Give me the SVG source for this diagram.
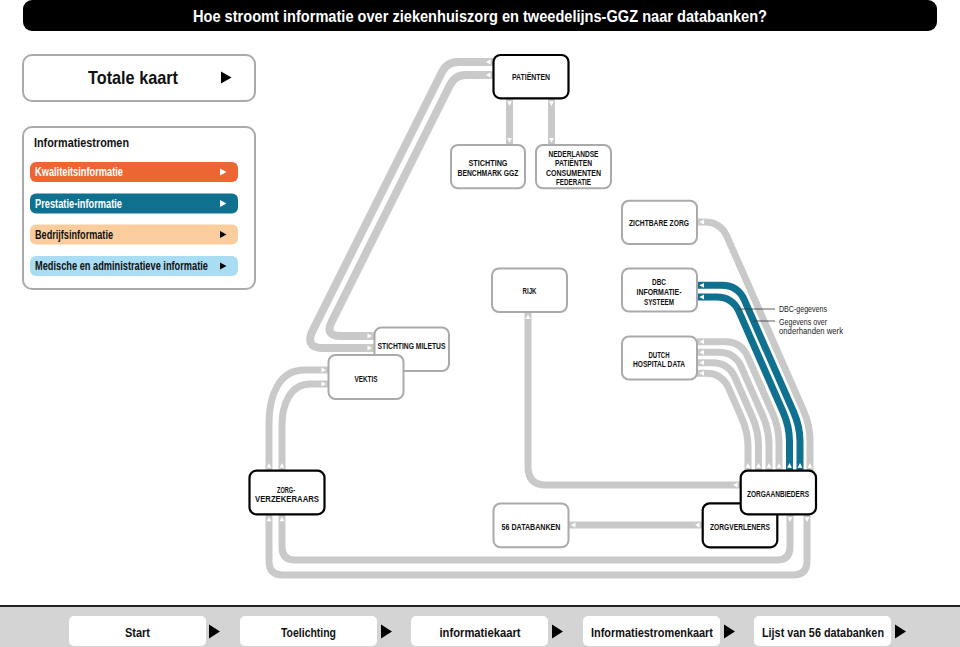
<svg xmlns="http://www.w3.org/2000/svg" width="960" height="647" viewBox="0 0 960 647">
<defs>
<style>
text{font-family:"Liberation Sans",Arial,sans-serif}
.nb rect{fill:#fff;stroke:#aaaaaa;stroke-width:2}
.nk rect{fill:#fff;stroke:#000;stroke-width:2.2}
.nl{font-size:9.5px;font-weight:bold;fill:#111;text-anchor:middle}
.c{fill:none;stroke:#c9c9c9;stroke-width:7;marker-start:url(#as);marker-end:url(#ae)}
.cw{stroke-width:8}
.t{stroke:#10708f}
.bt{font-size:12px;font-weight:bold}
.lead{stroke:#333;stroke-width:0.8;fill:none}
.lab{font-size:9px;fill:#222}
.btn{fill:#fff}
.bl{font-size:13.5px;font-weight:bold;fill:#111;text-anchor:middle}
.pnl{fill:#fff;stroke:#aaaaaa;stroke-width:2}
</style>
<marker id="ae" markerUnits="userSpaceOnUse" markerWidth="10" markerHeight="10" viewBox="0 0 10 10" refX="10" refY="5" orient="auto"><path d="M3,2.6 L7.6,5 L3,7.4z" fill="#fff"/></marker>
<marker id="as" markerUnits="userSpaceOnUse" markerWidth="10" markerHeight="10" viewBox="0 0 10 10" refX="0" refY="5" orient="auto"><path d="M3,2.6 L7.6,5 L3,7.4z" fill="#fff"/></marker>
</defs>
<rect width="960" height="647" fill="#fff"/>

<g id="titlebar">
<rect x="23" y="0" width="914" height="31" rx="9" fill="#000"/>
<text x="480" y="22" font-size="17" font-weight="bold" fill="#fff" text-anchor="middle" textLength="574" lengthAdjust="spacingAndGlyphs">Hoe stroomt informatie over ziekenhuiszorg en tweedelijns-GGZ naar databanken?</text>
</g>

<g id="totale-kaart">
<rect class="pnl" x="23" y="55" width="232" height="46" rx="9"/>
<text x="88" y="84" font-size="19" font-weight="bold" fill="#111" textLength="90" lengthAdjust="spacingAndGlyphs">Totale kaart</text>
<path d="M221,71.5 L231.5,77.5 L221,83.5z" fill="#000"/>
</g>

<g id="legend">
<rect class="pnl" x="23" y="127" width="232" height="162" rx="9"/>
<text x="34" y="147" font-size="13" font-weight="bold" fill="#111" textLength="95" lengthAdjust="spacingAndGlyphs">Informatiestromen</text>
<rect x="30" y="162" width="208" height="20" rx="6" fill="#eb6632"/>
<text class="bt" x="35" y="176" fill="#fff" textLength="88" lengthAdjust="spacingAndGlyphs">Kwaliteitsinformatie</text>
<path d="M220,168.5 L226.5,172 L220,175.5z" fill="#fff"/>
<rect x="30" y="193.5" width="208" height="20" rx="6" fill="#10708f"/>
<text class="bt" x="35" y="207.5" fill="#fff" textLength="87" lengthAdjust="spacingAndGlyphs">Prestatie-informatie</text>
<path d="M220,200 L226.5,203.5 L220,207z" fill="#fff"/>
<rect x="30" y="224.5" width="208" height="20" rx="6" fill="#fccd9c"/>
<text class="bt" x="35" y="238.5" fill="#111" textLength="78" lengthAdjust="spacingAndGlyphs">Bedrijfsinformatie</text>
<path d="M220,231 L226.5,234.5 L220,238z" fill="#000"/>
<rect x="30" y="256" width="208" height="20" rx="6" fill="#a8ddf3"/>
<text class="bt" x="35" y="270" fill="#111" textLength="173" lengthAdjust="spacingAndGlyphs">Medische en administratieve informatie</text>
<path d="M220,262.5 L226.5,266 L220,269.5z" fill="#000"/>
</g>

<g id="connectors">
<path class="c" d="M509.5,98.3 L509.5,145"/>
<path class="c" d="M551.5,98.3 L551.5,145"/>
<path class="c cw" d="M493.5,62 L458,62 Q447,62 442,72 L312.9,330.1 Q304,348 324,348 L374.5,348"/>
<path class="c cw" d="M493.5,75 L466,75 Q455,75 450,85 L331.7,321.7 Q324.5,336 340.5,336 L374.5,336"/>
<path class="c" d="M269,470.7 L269,423 C269,396 279,370 304,370 L328.5,370"/>
<path class="c" d="M282,470.7 L282,425 C282,405 290,384 310,384 L328.5,384"/>
<path class="c" d="M807,514.3 L807,561 Q807,575 793,575 L283,575 Q269,575 269,561 L269,514.3"/>
<path class="c" d="M790,514.3 L790,547 Q790,560 777,560 L295,560 Q282,560 282,547 L282,514.3"/>
<path class="c" d="M740.7,485 L546,485 Q528,485 528,467 L528,312"/>
<path class="c" d="M702.7,525 L568.5,525"/>
<path class="c" d="M810,470.7 L810,440.1 Q810,425.5 803.6,410.9 L727,236.6 Q720.5,222 704.5,222 L697,222"/>
<path class="c" d="M779,470.7 L779,442.3 Q779,427.7 772.6,413.1 L747.6,356.3 Q741.1,341.7 725.1,341.7 L697,341.7"/>
<path class="c" d="M769,470.7 L769,444.6 Q769,430 762.6,415.4 L741.3,366.9 Q734.8,352.3 718.8,352.3 L697,352.3"/>
<path class="c" d="M758.5,470.7 L758.5,445.7 Q758.5,431.1 752.1,416.5 L734.9,377.3 Q728.4,362.7 712.4,362.7 L697,362.7"/>
<path class="c" d="M748,470.7 L748,446.9 Q748,432.3 741.6,417.7 L728.5,387.9 Q722,373.3 706,373.3 L697,373.3"/>
<path class="c t" d="M800,470.7 L800,441.2 Q800,426.6 793.6,412 L744.3,299.9 Q737.8,285.3 721.8,285.3 L697,285.3"/>
<path class="c t" d="M789.5,470.7 L789.5,441.2 Q789.5,426.6 783.1,412 L739,311.6 Q732.5,297 716.5,297 L697,297"/>
<path class="lead" d="M737.5,309 L775,309"/>
<path class="lead" d="M753.5,321 L775,321"/>
</g>

<g id="labels">
<text class="lab" x="779" y="312" textLength="48" lengthAdjust="spacingAndGlyphs">DBC-gegevens</text>
<text class="lab" x="779" y="324.5" textLength="48" lengthAdjust="spacingAndGlyphs">Gegevens over</text>
<text class="lab" x="779" y="334" textLength="64" lengthAdjust="spacingAndGlyphs">onderhanden werk</text>
</g>

<g id="patienten" class="nk">
<rect x="493.5" y="55" width="75" height="43.3" rx="7"/>
<text class="nl" x="531" y="80" textLength="38" lengthAdjust="spacingAndGlyphs">PATIËNTEN</text>
</g>
<g id="benchmark" class="nb">
<rect x="451" y="145" width="74" height="43.3" rx="7"/>
<text class="nl" x="488" y="165.5" textLength="39" lengthAdjust="spacingAndGlyphs">STICHTING</text>
<text class="nl" x="488" y="175.5" textLength="61" lengthAdjust="spacingAndGlyphs">BENCHMARK GGZ</text>
</g>
<g id="npcf" class="nb">
<rect x="536" y="145" width="75" height="43.3" rx="7"/>
<text class="nl" x="573.5" y="156.5" textLength="50" lengthAdjust="spacingAndGlyphs">NEDERLANDSE</text>
<text class="nl" x="573.5" y="166.2" textLength="37" lengthAdjust="spacingAndGlyphs">PATIËNTEN</text>
<text class="nl" x="573.5" y="175.8" textLength="55" lengthAdjust="spacingAndGlyphs">CONSUMENTEN</text>
<text class="nl" x="573.5" y="185.3" textLength="35" lengthAdjust="spacingAndGlyphs">FEDERATIE</text>
</g>
<g id="zichtbare-zorg" class="nb">
<rect x="622" y="200.7" width="75" height="43.3" rx="7"/>
<text class="nl" x="659" y="226" textLength="60" lengthAdjust="spacingAndGlyphs">ZICHTBARE ZORG</text>
</g>
<g id="rijk" class="nb">
<rect x="492" y="268.5" width="75" height="43.5" rx="7"/>
<text class="nl" x="529.5" y="293.5" textLength="14" lengthAdjust="spacingAndGlyphs">RIJK</text>
</g>
<g id="dbc" class="nb">
<rect x="622" y="268.5" width="75" height="43" rx="7"/>
<text class="nl" x="659" y="285" textLength="14" lengthAdjust="spacingAndGlyphs">DBC</text>
<text class="nl" x="659" y="295" textLength="45" lengthAdjust="spacingAndGlyphs">INFORMATIE-</text>
<text class="nl" x="659" y="305" textLength="30" lengthAdjust="spacingAndGlyphs">SYSTEEM</text>
</g>
<g id="dhd" class="nb">
<rect x="622" y="336.5" width="75" height="43" rx="7"/>
<text class="nl" x="659" y="358" textLength="21" lengthAdjust="spacingAndGlyphs">DUTCH</text>
<text class="nl" x="659" y="367.3" textLength="52" lengthAdjust="spacingAndGlyphs">HOSPITAL DATA</text>
</g>
<g id="miletus" class="nb">
<rect x="374.5" y="327.5" width="74.5" height="43.5" rx="7"/>
<text class="nl" x="411.5" y="348.5" textLength="68" lengthAdjust="spacingAndGlyphs">STICHTING MILETUS</text>
</g>
<g id="vektis" class="nb">
<rect x="328.5" y="355" width="75" height="44" rx="7"/>
<text class="nl" x="366" y="381.5" textLength="23" lengthAdjust="spacingAndGlyphs">VEKTIS</text>
</g>
<g id="zorgverzekeraars" class="nk">
<rect x="249.5" y="470.7" width="75" height="43.6" rx="7"/>
<text class="nl" x="286" y="492.5" textLength="18" lengthAdjust="spacingAndGlyphs">ZORG-</text>
<text class="nl" x="287" y="502" textLength="64" lengthAdjust="spacingAndGlyphs">VERZEKERAARS</text>
</g>
<g id="databanken" class="nb">
<rect x="493.5" y="503.5" width="75" height="43.8" rx="7"/>
<text class="nl" x="531" y="529.5" textLength="59" lengthAdjust="spacingAndGlyphs">56 DATABANKEN</text>
</g>
<g id="zorgverleners" class="nk">
<rect x="702.7" y="503.3" width="74.6" height="44" rx="7"/>
<text class="nl" x="740" y="529.5" textLength="60" lengthAdjust="spacingAndGlyphs">ZORGVERLENERS</text>
</g>
<g id="zorgaanbieders" class="nk">
<rect x="740.7" y="470.7" width="75.3" height="43.6" rx="7"/>
<text class="nl" x="778" y="496.5" textLength="62" lengthAdjust="spacingAndGlyphs">ZORGAANBIEDERS</text>
</g>

<g id="footer">
<rect x="0" y="606" width="960" height="41" fill="#d4d4d4"/>
<line x1="0" y1="606" x2="960" y2="606" stroke="#222" stroke-width="2"/>
<rect class="btn" x="69" y="616" width="137" height="30" rx="5"/>
<text class="bl" x="137.5" y="636.5" textLength="25" lengthAdjust="spacingAndGlyphs">Start</text>
<path d="M209,624.5 L220,631.5 L209,638.5z" fill="#000"/>
<rect class="btn" x="240" y="616" width="137" height="30" rx="5"/>
<text class="bl" x="308.5" y="636.5" textLength="55" lengthAdjust="spacingAndGlyphs">Toelichting</text>
<path d="M381,624.5 L392,631.5 L381,638.5z" fill="#000"/>
<rect class="btn" x="411" y="616" width="137" height="30" rx="5"/>
<text class="bl" x="480" y="636.5" textLength="81" lengthAdjust="spacingAndGlyphs">informatiekaart</text>
<path d="M552,624.5 L563,631.5 L552,638.5z" fill="#000"/>
<rect class="btn" x="583" y="616" width="137" height="30" rx="5"/>
<text class="bl" x="652" y="636.5" textLength="122" lengthAdjust="spacingAndGlyphs">Informatiestromenkaart</text>
<path d="M724,624.5 L735,631.5 L724,638.5z" fill="#000"/>
<rect class="btn" x="754" y="616" width="137" height="30" rx="5"/>
<text class="bl" x="823" y="636.5" textLength="122" lengthAdjust="spacingAndGlyphs">Lijst van 56 databanken</text>
<path d="M895,624.5 L906,631.5 L895,638.5z" fill="#000"/>
</g>
</svg>
